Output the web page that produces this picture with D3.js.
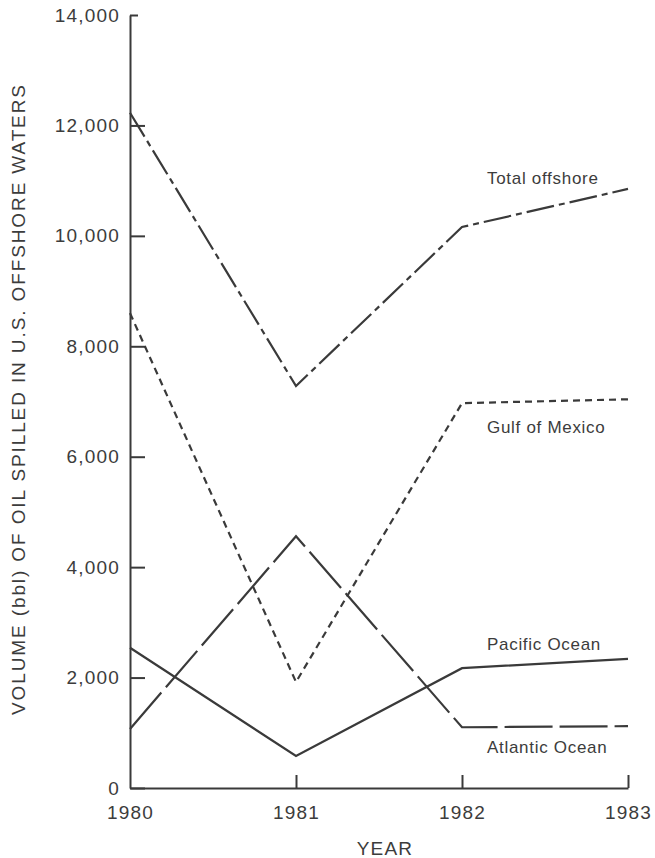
<!DOCTYPE html>
<html>
<head>
<meta charset="utf-8">
<script src="https://cdn.jsdelivr.net/npm/d3@7/dist/d3.min.js"></script>
<style>
  html, body { margin: 0; padding: 0; background: #fff; }
  svg { display: block; }
  text { font-family: "Liberation Sans", Arial, Helvetica, sans-serif; fill: #3c3c3c; }
</style>
</head>
<body>
<svg id="chart" width="655" height="858"></svg>
<script>
// Oil spilled in U.S. offshore waters, barrels, by year
const years = [1980, 1981, 1982, 1983];
const totalOffshore = [12230, 7280, 10160, 10850];
const gulfOfMexico = [8600, 1920, 6970, 7040];
const pacificOcean = [2540, 580, 2170, 2340];
const atlanticOcean = [1070, 4560, 1100, 1120];
const yTicks = [0, 2000, 4000, 6000, 8000, 10000, 12000, 14000];
const seriesNames = ["Total offshore", "Gulf of Mexico", "Pacific Ocean", "Atlantic Ocean"];

const svg = d3.select("#chart");
const ink = "#3a3a3a";
const textInk = "#3c3c3c";

const x = d3.scaleLinear().domain([1980, 1983]).range([130, 628]);
const y = d3.scaleLinear().domain([0, 14000]).range([788, 15]);

// y axis: ticks point inward
const yAxis = svg.append("g")
  .attr("transform", `translate(${x(1980)},0)`)
  .call(d3.axisLeft(y).tickValues(yTicks).tickSizeInner(-15).tickSizeOuter(0)
    .tickPadding(10).tickFormat(d3.format(",")));
yAxis.select(".domain").attr("stroke", ink).attr("stroke-width", 2);
yAxis.selectAll(".tick line").attr("stroke", ink).attr("stroke-width", 2);
yAxis.selectAll(".tick").filter(d => d === 14000).select("line").attr("x2", 8);
yAxis.selectAll(".tick text")
  .attr("font-size", 19).attr("letter-spacing", 1.2)
  .attr("font-family", "'Liberation Sans', Arial, sans-serif").attr("fill", textInk);

// x axis: ticks point upward
const xAxis = svg.append("g")
  .attr("transform", `translate(0,${y(0)})`)
  .call(d3.axisBottom(x).tickValues(years).tickSizeInner(-13).tickSizeOuter(0)
    .tickPadding(18).tickFormat(d3.format("d")));
xAxis.select(".domain").attr("stroke", ink).attr("stroke-width", 2);
xAxis.selectAll(".tick line").attr("stroke", ink).attr("stroke-width", 2);
xAxis.selectAll(".tick").filter(d => d === 1980).select("line").remove();
xAxis.selectAll(".tick text")
  .attr("font-size", 19).attr("letter-spacing", 1.2)
  .attr("font-family", "'Liberation Sans', Arial, sans-serif").attr("fill", textInk);

// axis titles
svg.append("text")
  .attr("x", 385).attr("y", 855)
  .attr("text-anchor", "middle")
  .attr("font-size", 19).attr("letter-spacing", 1.2)
  .text("YEAR");

svg.append("text")
  .attr("transform", "translate(25,400) rotate(-90)")
  .attr("text-anchor", "middle")
  .attr("font-size", 19)
  .attr("textLength", 630).attr("lengthAdjust", "spacing")
  .text("VOLUME (bbl) OF OIL SPILLED IN U.S. OFFSHORE WATERS");

// series lines
const line = d3.line().x((d, i) => x(years[i])).y(d => y(d));
const series = [
  { values: totalOffshore, dash: "28,5,6,5" },
  { values: gulfOfMexico, dash: "7,5" },
  { values: pacificOcean, dash: null },
  { values: atlanticOcean, dash: "48,7" }
];
series.forEach(s => {
  svg.append("path")
    .attr("d", line(s.values))
    .attr("fill", "none")
    .attr("stroke", ink)
    .attr("stroke-width", 2.2)
    .attr("stroke-linejoin", "miter")
    .attr("stroke-dasharray", s.dash);
});

// series labels beside the 1982–1983 segments
const labelX = x(1982) + 25;
const labelY = [
  y(totalOffshore[3]) - 5,
  y(gulfOfMexico[3]) + 34,
  y(pacificOcean[3]) - 9,
  y(atlanticOcean[3]) + 27
];
seriesNames.forEach((name, i) => {
  svg.append("text")
    .attr("x", labelX).attr("y", labelY[i])
    .attr("font-size", 17).attr("letter-spacing", 0.7)
    .text(name);
});
</script>
</body>
</html>
